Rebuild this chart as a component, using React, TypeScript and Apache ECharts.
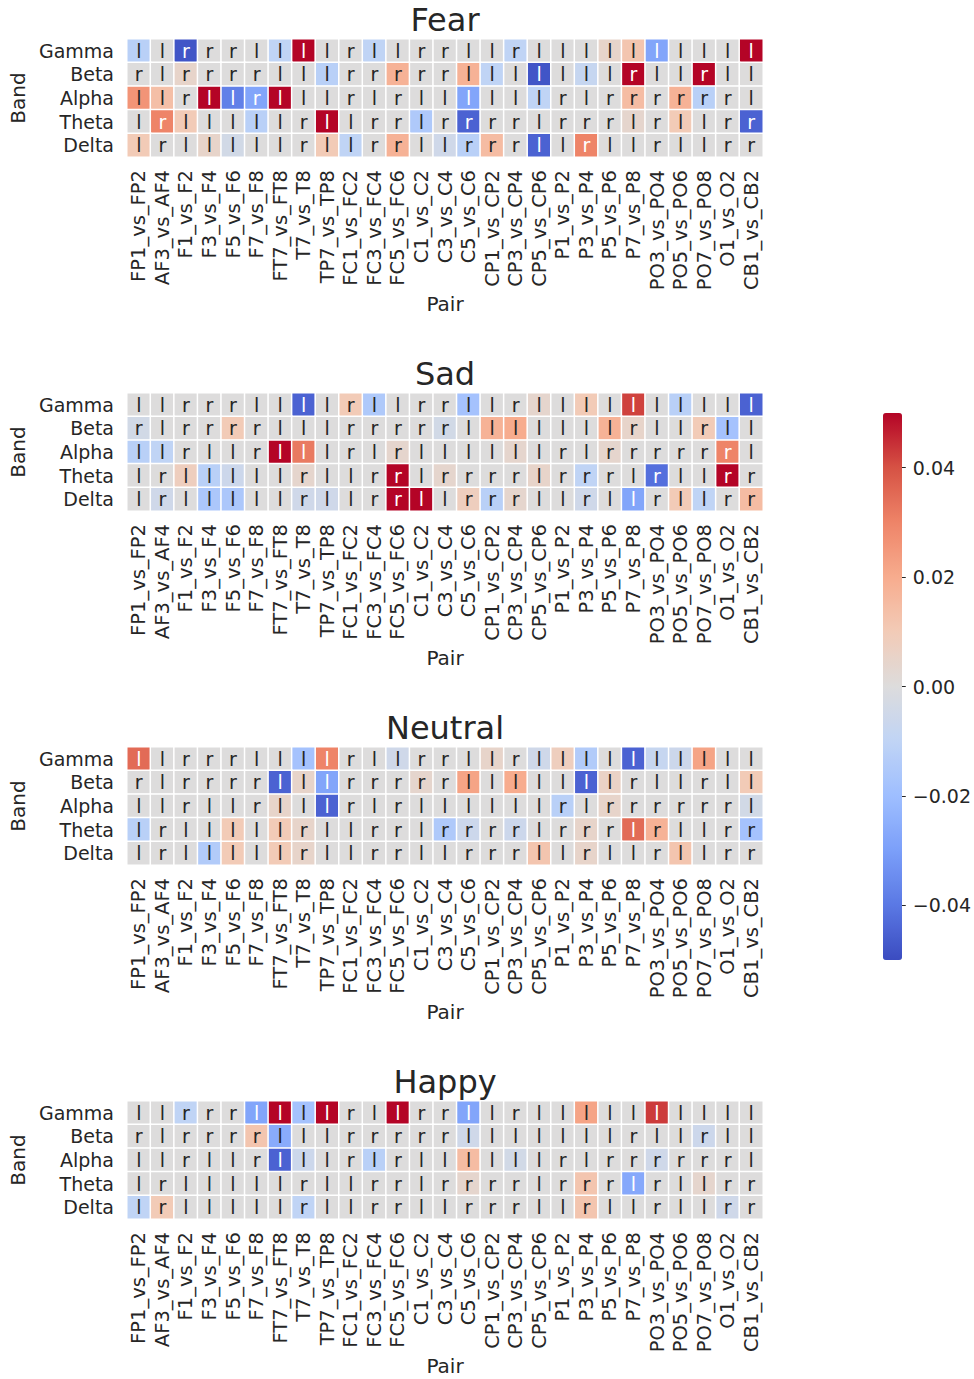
import React, { useEffect, useRef } from "react";
import * as echarts from "echarts";

const PAIRS = [
  "FP1_vs_FP2", "AF3_vs_AF4", "F1_vs_F2", "F3_vs_F4", "F5_vs_F6", "F7_vs_F8",
  "FT7_vs_FT8", "T7_vs_T8", "TP7_vs_TP8", "FC1_vs_FC2", "FC3_vs_FC4", "FC5_vs_FC6",
  "C1_vs_C2", "C3_vs_C4", "C5_vs_C6", "CP1_vs_CP2", "CP3_vs_CP4", "CP5_vs_CP6",
  "P1_vs_P2", "P3_vs_P4", "P5_vs_P6", "P7_vs_P8", "PO3_vs_PO4", "PO5_vs_PO6",
  "PO7_vs_PO8", "O1_vs_O2", "CB1_vs_CB2",
];
const BANDS = ["Gamma", "Beta", "Alpha", "Theta", "Delta"];
const EMOTIONS = ["Fear", "Sad", "Neutral", "Happy"];

// cell annotations (l = left, r = right), one string per band
const SIDE_GAMMA = "llrrrllllrllrrllrllllllllll";
const SIDE_BETA = "rlrrrrlllrrrrrlllllllrllrll";
const SIDE_ALPHA = "llrllrlllrlrllllllrlrrrrrrl";
const SIDE_THETA = "lrlllllrllrrlrrrrlrrrlrllrr";
const SIDE_DELTA = "lrlllllrllrrllrrrllrllrllrr";
const SIDES = [SIDE_GAMMA, SIDE_BETA, SIDE_ALPHA, SIDE_THETA, SIDE_DELTA];

const FEAR_GAMMA = [-0.012, 0, -0.048, 0, 0, 0, -0.01, 0.05, 0, 0, -0.01, 0, 0, 0, 0, 0, -0.01, 0, 0, 0, 0.005, 0.012, -0.028, 0, 0, 0, 0.05];
const FEAR_BETA = [0, 0, 0.005, 0, 0, 0, 0, 0, -0.012, 0, 0, 0.018, 0, 0, 0.018, -0.01, 0, -0.048, 0, -0.008, 0, 0.05, 0, 0, 0.05, 0, 0];
const FEAR_ALPHA = [0.026, 0.014, 0, 0.05, -0.038, -0.028, 0.05, 0, 0, 0, 0, 0, 0, 0, -0.028, 0, 0, -0.01, 0, 0, 0, 0.015, 0, 0.018, -0.012, 0, 0];
const FEAR_THETA = [0, 0.03, 0.01, 0, 0, -0.012, 0, 0, 0.05, 0, 0, 0, -0.015, 0, -0.045, 0, 0, 0, 0, 0, 0, 0.004, 0, 0.01, 0, 0, -0.045];
const FEAR_DELTA = [0.01, 0, 0, 0.005, -0.004, 0, 0, 0, 0.01, -0.01, 0, 0.018, 0, -0.005, -0.012, 0.015, 0, -0.045, 0, 0.03, 0, 0, 0, 0, 0, 0, 0];

const SAD_GAMMA = [0, 0, 0, 0, 0, 0, 0, -0.045, 0, 0.01, -0.015, 0, 0, 0, -0.018, 0, 0, 0.004, 0, 0.01, 0, 0.042, 0, -0.012, 0, 0, -0.045];
const SAD_BETA = [-0.004, 0, 0, 0, 0.01, 0, 0, 0, 0, 0, 0, 0, 0, -0.004, 0, 0.018, 0.02, 0, 0, 0, 0.018, 0.005, 0, 0, 0.01, -0.018, 0];
const SAD_ALPHA = [-0.012, -0.01, 0, 0, 0, 0, 0.05, 0.032, 0, 0, 0, 0.004, 0, 0, 0, 0, 0.004, 0, 0, 0, 0.004, 0, 0, 0, 0, 0.03, 0];
const SAD_THETA = [0, 0, 0.008, -0.012, -0.006, 0, 0, 0.004, 0, 0, 0, 0.05, 0, 0.004, 0, 0, 0, 0.005, 0, -0.01, 0, 0, -0.042, 0, 0, 0.05, 0];
const SAD_DELTA = [0, -0.005, 0, -0.016, -0.016, 0, 0, -0.005, -0.005, 0, 0, 0.05, 0.05, 0, 0.008, -0.012, 0.004, 0, 0, -0.005, 0, -0.028, 0, 0.01, -0.01, 0, 0.015];

const NEUTRAL_GAMMA = [0.035, 0, 0, 0, 0, 0, 0, -0.018, 0.03, 0, 0, -0.005, 0, 0, 0, 0.005, 0, -0.005, 0.008, -0.014, 0, -0.045, -0.008, -0.006, 0.022, 0, 0];
const NEUTRAL_BETA = [0, 0, 0, 0, 0, 0, -0.045, 0.005, -0.028, 0, 0, 0, 0.004, 0, 0.022, 0, 0.02, 0, 0, -0.045, 0.006, 0, 0, 0, 0, 0, 0.01];
const NEUTRAL_ALPHA = [0, 0, 0, 0, 0, 0, 0.005, 0, -0.045, 0, 0, 0, 0, 0, 0, 0, 0, 0, -0.012, 0, 0.005, 0, 0, 0, 0, 0, -0.004];
const NEUTRAL_THETA = [-0.012, 0, 0, 0, 0.01, 0, 0.01, 0.005, 0, 0, 0, 0, 0, -0.015, -0.006, 0, -0.006, 0, 0, 0.005, 0, 0.035, 0.018, 0, 0, 0, -0.018];
const NEUTRAL_DELTA = [0, 0, 0, -0.014, 0.01, 0, 0.01, 0.005, 0, 0, 0, 0, 0, 0, 0, 0, 0, 0.012, 0, 0.005, 0, 0, 0, 0.012, 0, 0, 0];

const HAPPY_GAMMA = [0, 0, -0.01, 0, 0, -0.028, 0.05, -0.018, 0.05, 0, 0, 0.05, 0, 0, -0.028, 0, 0, 0, 0, 0.022, 0, 0, 0.043, 0, 0, 0, 0];
const HAPPY_BETA = [0, 0, 0, 0, 0, 0.012, -0.026, 0, 0, 0, 0, 0, 0, 0, -0.005, 0, 0, 0, 0, 0, 0, 0, 0, 0, -0.006, 0, 0];
const HAPPY_ALPHA = [0, 0, 0, 0, 0, 0, -0.045, -0.006, 0, 0, -0.012, 0, 0, 0, 0.015, 0, -0.004, 0, 0, 0, 0, 0, -0.005, 0, 0, 0, 0];
const HAPPY_THETA = [0, 0, 0, 0, 0, 0, 0, 0, 0, 0, 0, 0, 0, 0, 0.004, 0, 0, 0, 0, 0.012, 0, -0.027, 0, 0, 0.004, 0, 0];
const HAPPY_DELTA = [-0.01, 0.01, 0, 0, 0, 0, 0, -0.01, 0, 0, 0, 0, 0, 0, 0, 0, 0, 0, 0, 0.012, 0, 0, 0, 0, 0, -0.005, 0];

const FEAR = [FEAR_GAMMA, FEAR_BETA, FEAR_ALPHA, FEAR_THETA, FEAR_DELTA];
const SAD = [SAD_GAMMA, SAD_BETA, SAD_ALPHA, SAD_THETA, SAD_DELTA];
const NEUTRAL = [NEUTRAL_GAMMA, NEUTRAL_BETA, NEUTRAL_ALPHA, NEUTRAL_THETA, NEUTRAL_DELTA];
const HAPPY = [HAPPY_GAMMA, HAPPY_BETA, HAPPY_ALPHA, HAPPY_THETA, HAPPY_DELTA];
const MATRICES = [FEAR, SAD, NEUTRAL, HAPPY];

const V_MIN = -0.05;
const V_MAX = 0.05;
const CBAR_TICKS = [-0.04, -0.02, 0, 0.02, 0.04];

const COOLWARM = [
  "#3b4cc0", "#5a78e4", "#7b9ff9", "#9ebeff", "#c0d4f5", "#dddcdc",
  "#f2cbb7", "#f7ac8e", "#ee8468", "#d65244", "#b40426",
];

const FONT = "DejaVu Sans";
const INK = "#262626";

function hexToRgb(h: string) {
  return [1, 3, 5].map((i) => parseInt(h.slice(i, i + 2), 16));
}
function cellColor(v: number) {
  const t = Math.min(1, Math.max(0, (v - V_MIN) / (V_MAX - V_MIN)));
  const pos = t * (COOLWARM.length - 1);
  const i = Math.min(COOLWARM.length - 2, Math.floor(pos));
  const f = pos - i;
  const a = hexToRgb(COOLWARM[i]);
  const b = hexToRgb(COOLWARM[i + 1]);
  return a.map((c, k) => c + (b[k] - c) * f);
}
function textColor(v: number) {
  const rgb = cellColor(v).map((c) => {
    const s = c / 255;
    return s <= 0.03928 ? s / 12.92 : Math.pow((s + 0.055) / 1.055, 2.4);
  });
  const lum = 0.2126 * rgb[0] + 0.7152 * rgb[1] + 0.0722 * rgb[2];
  return lum > 0.408 ? INK : "#ffffff";
}

const GRID_LEFT = 127;
const GRID_W = 636;
const GRID_H = 118;
const GRID_TOP0 = 39;
const GRID_STEP = 354;

function buildOption() {
  const grids: any[] = [];
  const xAxes: any[] = [];
  const yAxes: any[] = [];
  const series: any[] = [];
  const graphics: any[] = [];

  EMOTIONS.forEach((emo, i) => {
    const top = GRID_TOP0 + i * GRID_STEP;
    grids.push({ left: GRID_LEFT, top, width: GRID_W, height: GRID_H, containLabel: false });
    xAxes.push({
      type: "category",
      gridIndex: i,
      data: PAIRS,
      axisLine: { show: false },
      axisTick: { show: false },
      splitLine: { show: false },
      axisLabel: { rotate: 90, interval: 0, fontSize: 19.5, color: INK, fontFamily: FONT, margin: 13 },
      name: "Pair",
      nameLocation: "middle",
      nameGap: 135,
      nameTextStyle: { fontSize: 20, color: INK, fontFamily: FONT },
    });
    yAxes.push({
      type: "category",
      gridIndex: i,
      data: BANDS,
      inverse: true,
      axisLine: { show: false },
      axisTick: { show: false },
      splitLine: { show: false },
      axisLabel: { interval: 0, fontSize: 19, color: INK, fontFamily: FONT, margin: 13 },
      name: "Band",
      nameLocation: "middle",
      nameRotate: 90,
      nameGap: 86,
      nameTextStyle: { fontSize: 20, color: INK, fontFamily: FONT },
    });
    const data: any[] = [];
    MATRICES[i].forEach((row, y) => {
      row.forEach((v, x) => {
        data.push({ value: [x, y, v], label: { color: textColor(v) } });
      });
    });
    series.push({
      type: "heatmap",
      xAxisIndex: i,
      yAxisIndex: i,
      data,
      label: {
        show: true,
        fontSize: 19,
        fontFamily: FONT,
        formatter: (p: any) => SIDES[p.value[1]][p.value[0]],
      },
      itemStyle: { borderColor: "#ffffff", borderWidth: 1.5 },
      emphasis: { disabled: true },
    });
    graphics.push({
      type: "text",
      x: GRID_LEFT + GRID_W / 2,
      y: top - 19,
      style: {
        text: emo,
        fontSize: 32,
        fontFamily: FONT,
        fill: INK,
        align: "center",
        verticalAlign: "middle",
      },
    });
  });

  // colorbar axis
  grids.push({ left: 883, top: 413, width: 19, height: 547 });
  xAxes.push({ type: "value", gridIndex: 4, show: false, min: 0, max: 1 });
  yAxes.push({
    type: "value",
    gridIndex: 4,
    min: V_MIN,
    max: V_MAX,
    position: "right",
    axisLine: { show: false, onZero: false },
    splitLine: { show: false },
    axisTick: {
      show: true,
      customValues: CBAR_TICKS,
      length: 5,
      lineStyle: { color: INK, width: 1 },
    },
    axisLabel: {
      customValues: CBAR_TICKS,
      margin: 12,
      fontSize: 19,
      color: INK,
      fontFamily: FONT,
      formatter: (v: number) => (v < 0 ? "\u2212" : "") + Math.abs(v).toFixed(2),
    },
  });
  // the colorbar's value range, so the colorbar axis is not blank
  series.push({
    type: "line",
    xAxisIndex: 4,
    yAxisIndex: 4,
    data: [[0, V_MIN], [0, V_MAX]],
    symbol: "none",
    silent: true,
    lineStyle: { width: 0, opacity: 0 },
  });

  return {
    animation: false,
    backgroundColor: "#ffffff",
    textStyle: { fontFamily: FONT },
    grid: grids,
    xAxis: xAxes,
    yAxis: yAxes,
    visualMap: {
      type: "continuous",
      min: V_MIN,
      max: V_MAX,
      seriesIndex: [0, 1, 2, 3],
      calculable: false,
      hoverLink: false,
      orient: "vertical",
      left: 883,
      top: 413,
      itemWidth: 19,
      itemHeight: 547,
      padding: 0,
      text: ["", ""],
      inRange: { color: COOLWARM },
    },
    series,
    graphic: graphics,
  };
}

export default function App() {
  const ref = useRef<HTMLDivElement>(null);
  useEffect(() => {
    const chart = echarts.init(ref.current!, null, { renderer: "svg" });
    chart.setOption(buildOption() as any);
    return () => chart.dispose();
  }, []);
  return (
    <div
      ref={ref}
      style={{ position: "absolute", left: 0, top: 0, width: 974, height: 1379 }}
    />
  );
}
